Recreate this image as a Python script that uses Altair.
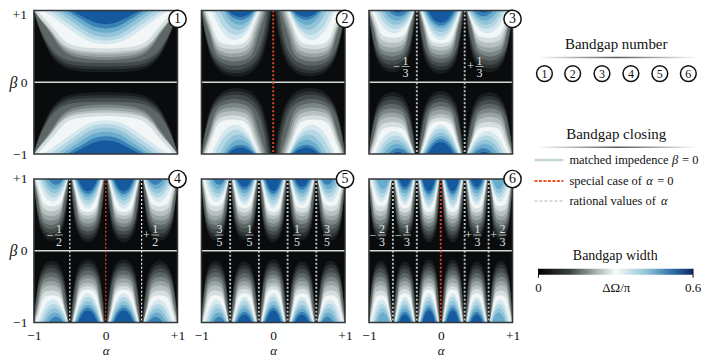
import altair as alt
import pandas as pd

SERIF = "Liberation Serif"
W = 144
H = 144

# band colours, from just above the black floor up to the deepest blue
LEVELS = list(range(1, 16))
LEVEL_COLORS = ["#1a1d1e", "#2d3233", "#434a4a", "#5d6665", "#7b8584", "#99a3a2", "#b7c0bf", "#d6dddd",
                "#f2f6f7", "#d5e8ef", "#b5d7e4", "#92c3d8", "#6aaccb", "#3a80b5", "#15599f"]

# contour templates: across-lobe position / depth towards the lobe floor
ARCH_U = [0, 0.25, 0.5, 0.65, 0.75, 0.85, 0.92, 0.97, 1.0]
ARCH_BOX = [1, 0.995, 0.96, 0.87, 0.75, 0.53, 0.33, 0.14, 0.0]
ARCH_ROUND = [1, 0.98, 0.90, 0.80, 0.68, 0.48, 0.30, 0.12, 0.0]
ARCH_BOWL = [1, 0.98, 0.90, 0.72, 0.50, 0.30, 0.17, 0.06, 0.0]
ARCH_BELL = [1, 0.92, 0.65, 0.45, 0.32, 0.18, 0.09, 0.03, 0.0]
ARCH_CUP = [1, 0.94, 0.75, 0.58, 0.42, 0.25, 0.13, 0.05, 0.0]
ARCHES_WIDE = [ARCH_BOX] * 4 + [ARCH_BOWL] * 5 + [ARCH_BELL] * 6
ARCHES_NARROW = [ARCH_ROUND] * 4 + [ARCH_BOWL] * 5 + [ARCH_CUP] * 6

# for each lobe type: where each band meets beta=+1 (outer side, inner side, as a part of the half lobe)
# and how far down the band reaches at its floor (beta)
BROAD = dict(L=[1, 1, 1, 1, 1, 1, 1, 1, .95, .88, .79, .70, .62, .55, .49],
             R=[1, 1, 1, 1, 1, 1, 1, 1, .95, .88, .79, .70, .62, .55, .49],
             B=[.14, .18, .22, .27, .31, .35, .39, .42, .47, .53, .58, .63, .69, .75, .81],
             A=ARCHES_WIDE)
PAIR = dict(L=[1, 1, 1, .99, .98, .96, .94, .92, .87, .73, .64, .5, .39, .33, .27],
            R=[.96, .93, .89, .84, .80, .75, .70, .66, .61, .59, .56, .54, .52, .5, .45],
            B=[.08, .125, .17, .23, .29, .35, .40, .46, .52, .59, .66, .73, .8, .87, .91],
            A=ARCHES_NARROW)
SHALLOW = dict(L=[1, 1, 1, 1, 1, .99, .97, .94, .88, .8, .67, .53, .39, .2, .03],
               R=[.97, .95, .93, .92, .91, .9, .89, .89, .89, .89, .86, .79, .72, .65, .44],
               B=[.14, .19, .24, .3, .36, .42, .48, .55, .62, .68, .74, .8, .86, .92, .97],
               A=ARCHES_NARROW)
MID = dict(L=[.98, .96, .94, .92, .9, .89, .88, .86, .82, .79, .76, .72, .68, .62, .5],
           R=[.97, .95, .93, .91, .9, .88, .87, .85, .82, .79, .76, .72, .68, .62, .5],
           B=[.15, .2, .25, .31, .37, .42, .48, .53, .59, .64, .69, .75, .8, .85, .89],
           A=ARCHES_NARROW)
DEEP = dict(L=[.97, .95, .93, .91, .9, .88, .87, .85, .82, .8, .77, .74, .7, .64, .55],
            R=[.97, .95, .93, .91, .9, .88, .87, .85, .82, .8, .77, .74, .7, .64, .55],
            B=[.12, .17, .22, .27, .33, .38, .44, .49, .54, .59, .64, .7, .75, .79, .83],
            A=ARCHES_NARROW)

# panels: lobes as (left alpha, right alpha, type, top band present)
T = 1 / 3
LOBES = {
    1: [(-1, 1, BROAD, 15)],
    2: [(-1, 0, PAIR, 15), (0, 1, PAIR, 15)],
    3: [(-1, -T, SHALLOW, 15), (-T, T, DEEP, 15), (T, 1, SHALLOW, 15)],
    4: [(-1, -.5, SHALLOW, 14), (-.5, 0, DEEP, 15), (0, .5, DEEP, 15), (.5, 1, SHALLOW, 14)],
    5: [(-1, -.6, SHALLOW, 14), (-.6, -.2, MID, 15), (-.2, .2, DEEP, 15), (.2, .6, MID, 15), (.6, 1, SHALLOW, 14)],
    6: [(-1, -2 * T, SHALLOW, 13), (-2 * T, -T, MID, 15), (-T, 0, DEEP, 15), (0, T, DEEP, 15), (T, 2 * T, MID, 15), (2 * T, 1, SHALLOW, 13)],
}
RATIONAL = {1: [], 2: [], 3: [-T, T], 4: [-.5, .5], 5: [-.6, -.2, .2, .6], 6: [-2 * T, -T, T, 2 * T]}
SPECIAL = {1: [], 2: [0], 3: [], 4: [0], 5: [], 6: [0]}
FRACTIONS = {
    1: [], 2: [],
    3: [(-.49, "−", "1", "3"), (.54, "+", "1", "3")],
    4: [(-.65, "−", "1", "2"), (.69, "+", "1", "2")],
    5: [(-.75, "", "3", "5"), (-.33, "", "1", "5"), (.33, "", "1", "5"), (.75, "", "3", "5")],
    6: [(-.82, "−", "2", "3"), (-.47, "−", "1", "3"), (.51, "+", "1", "3"), (.86, "+", "2", "3")],
}
LEGEND_NUMBERS = ["1", "2", "3", "4", "5", "6"]
BAR_STOPS = [(0, "#000000"), (.2, "#3a3f40"), (.35, "#9aa3a1"), (.5, "#f6fafa"), (.7, "#8fc3d8"), (.85, "#3578a8"), (1, "#0b2a6e")]

ONE = alt.Data(values=[{}])
LABELS = "datum.value>0?'+1':datum.value<0?'−1':'0'"


def bands(panel):
    rows = []
    for k in LEVELS:
        for n, (a, b, kind, top) in enumerate(LOBES[panel]):
            if k > top:
                continue
            arch = kind["A"][k - 1]
            mid, half = (a + b) / 2, (b - a) / 2
            flip = mid > 0
            wo, wi, floor = kind["L"][k - 1], kind["R"][k - 1], kind["B"][k - 1]
            lo, hi = (-wo, wi) if not flip else (-wi, wo)
            apex, reach = mid + half * (lo + hi) / 2, half * (hi - lo) / 2
            xs = [apex - reach * u for u in reversed(ARCH_U)] + [apex + reach * u for u in ARCH_U[1:]]
            vs = list(reversed(arch)) + arch[1:]
            for side in (1, -1):
                for x, v in zip(xs, vs):
                    rows.append(dict(a=round(x, 4), b=round(side * (1 - (1 - floor) * v), 4), e=side, k=k, g=f"{k}-{n}-{side}"))
    return pd.DataFrame(rows)


def label(text, x, y, size=12, align="center", italic=False, color="#111111"):
    return alt.Chart(ONE).mark_text(text=text, font=SERIF, fontSize=size, align=align, baseline="middle",
                                    fontStyle="italic" if italic else "normal", color=color, clip=False).encode(
        x=alt.value(x), y=alt.value(y))


def ring(text, x, y, size, fsize):
    return [alt.Chart(ONE).mark_point(shape="circle", filled=True, fill="white", stroke="#111111", strokeWidth=1.5,
                                      opacity=1, size=size, clip=False).encode(x=alt.value(x), y=alt.value(y)),
            label(text, x, y, fsize)]


def panel(p):
    xs = alt.Scale(domain=[-1, 1], nice=False, zero=False)
    ys = alt.Scale(domain=[-1, 1], nice=False, zero=False)
    left = p in (1, 4)
    low = p >= 4
    y_axis = alt.Axis(values=[-1, 0, 1] if low else [-1, 0], title="β", titleAngle=0, titleFont=SERIF, titleFontStyle="italic",
                      titleFontWeight="normal", titleFontSize=16, titleColor="#111111", titleX=-21, titleY=72, titleBaseline="middle",
                      labelExpr=LABELS, ticks=False, domain=False, grid=False,
                      labelFont=SERIF, labelFontSize=13.5, labelColor="#111111", labelPadding=7) if left else None
    x_axis = alt.Axis(values=[-1, 0, 1], title="α", titleFont=SERIF, titleFontStyle="italic", titleFontWeight="normal", titleFontSize=13,
                      titleColor="#111111", titlePadding=2, labelExpr=LABELS, labelFlush=False,
                      ticks=False, domain=False, grid=False, labelFont=SERIF, labelFontSize=13.5, labelColor="#111111", labelPadding=6) if low else None
    ex = dict(scale=xs, axis=x_axis)
    ey = dict(scale=ys, axis=y_axis)

    dash_width = 1.2 if p == 4 else 1.9
    layers = [alt.Chart(ONE).mark_rect(color="#090b0c").encode(x=alt.value(0), x2=alt.value(W), y=alt.value(0), y2=alt.value(H))]
    layers.append(alt.Chart(bands(p)).mark_area(clip=True, interpolate="monotone", opacity=1).encode(
        x=alt.X("a:Q", **ex),
        y=alt.Y("b:Q", **ey),
        y2=alt.Y2("e:Q"),
        color=alt.Color("k:O", scale=alt.Scale(domain=LEVELS, range=LEVEL_COLORS), legend=None),
        detail="g:N"))
    layers.append(alt.Chart(pd.DataFrame({"b": [0]})).mark_rule(color="#d3dbd9", strokeWidth=1.6).encode(
        y=alt.Y("b:Q", **ey)))
    if RATIONAL[p]:
        layers.append(alt.Chart(pd.DataFrame({"a": RATIONAL[p]})).mark_rule(
            color="#eef0f0" if p == 4 else "#bcc2c2", strokeWidth=dash_width, strokeDash=[2, 2]).encode(
            x=alt.X("a:Q", **ex)))
    if SPECIAL[p]:
        layers.append(alt.Chart(pd.DataFrame({"a": SPECIAL[p]})).mark_rule(color="#e04a1e", strokeWidth=dash_width, strokeDash=[2, 2]).encode(
            x=alt.X("a:Q", **ex)))
    if FRACTIONS[p]:
        fr = pd.DataFrame(FRACTIONS[p], columns=["a", "s", "n", "d"]).assign(b=0.22)
        enc = dict(x=alt.X("a:Q", **ex), y=alt.Y("b:Q", **ey))
        base = alt.Chart(fr)
        style = dict(font=SERIF, fontSize=12, color="#dfe5e4", baseline="middle")
        layers.append(base.mark_tick(orient="horizontal", size=8, thickness=1, color="#dfe5e4").encode(**enc))
        layers.append(base.mark_text(dy=-6, **style).encode(text="n:N", **enc))
        layers.append(base.mark_text(dy=7, **style).encode(text="d:N", **enc))
        layers.append(base.mark_text(dx=-9, **style).encode(text="s:N", **enc))
    layers.append(alt.Chart(ONE).mark_rect(filled=False, stroke="#333638", strokeWidth=1.5).encode(
        x=alt.value(0), x2=alt.value(W), y=alt.value(0), y2=alt.value(H)))
    if p == 1:
        layers.append(label("+1", -7, 5, 13.5, "right"))
    layers += ring(str(p), W, 8.5 if p <= 3 else 0, 300, 14)
    return alt.layer(*layers).properties(width=W, height=H)


def soft_rule(y):
    grad = alt.Gradient(gradient="linear", x1=0, x2=1, y1=0, y2=0, stops=[
        alt.GradientStop(offset=0, color="#ffffff"), alt.GradientStop(offset=.5, color="#555a5a"),
        alt.GradientStop(offset=1, color="#ffffff")])
    return alt.Chart(ONE).mark_rect(color=grad).encode(x=alt.value(0), x2=alt.value(162), y=alt.value(y), y2=alt.value(y + 1.5))


def key_line(y, color, width, dash=None):
    opts = dict(color=color, strokeWidth=width, clip=False)
    if dash:
        opts["strokeDash"] = dash
    return alt.Chart(ONE).mark_rule(**opts).encode(x=alt.value(-2), x2=alt.value(27), y=alt.value(y))


def legend_panel():
    layers = [label("Bandgap number", 80, 34, 15), soft_rule(46.5)]
    for text, x in zip(LEGEND_NUMBERS, [8, 36.3, 65.7, 94.7, 123.7, 152.3]):
        layers += ring(text, x, 63.3, 250, 12)
    layers += [label("Bandgap closing", 80, 124, 15), soft_rule(136.5)]
    layers += [key_line(150, "#c5d5d5", 2.5), label("matched impedence", 33, 150, 12.5, "left"),
               label("β", 136, 150, 12.5, "left", True), label("= 0", 146, 150, 12.5, "left")]
    layers += [key_line(171, "#f0552a", 1.8, [3, 1.5]), label("special case of", 33, 171, 12.5, "left"),
               label("α", 110, 171, 12.5, "left", True), label("= 0", 121, 171, 12.5, "left")]
    layers += [key_line(191, "#c8d0d0", 1.5, [3, 2]), label("rational values of", 33, 191, 12.5, "left"),
               label("α", 125, 191, 12.5, "left", True)]
    layers.append(label("Bandgap width", 79, 246, 14))
    grad = alt.Gradient(gradient="linear", x1=0, x2=1, y1=0, y2=0,
                        stops=[alt.GradientStop(offset=o, color=c) for o, c in BAR_STOPS])
    layers.append(alt.Chart(ONE).mark_rect(color=grad).encode(x=alt.value(2), x2=alt.value(157), y=alt.value(259), y2=alt.value(265)))
    for x in (2, 157):
        layers.append(alt.Chart(ONE).mark_rule(color="#111111", strokeWidth=1).encode(x=alt.value(x), y=alt.value(259), y2=alt.value(268)))
    layers += [label("0", 2, 278, 13), label("ΔΩ/π", 80, 278, 13), label("0.6", 157, 278, 13)]
    return alt.layer(*layers).properties(width=162, height=H, view=alt.ViewBackground(stroke="transparent"))


chart = alt.concat(panel(1), panel(2), panel(3), legend_panel(), panel(4), panel(5), panel(6),
                   columns=4, spacing={"row": 25, "column": 24}, bounds="flush",
                   padding={"left": 0, "top": -2, "right": 0, "bottom": 0},
                   background="white").configure_view(stroke="transparent")
chart.save("out.html", embed_options={"renderer": "svg", "actions": False})
